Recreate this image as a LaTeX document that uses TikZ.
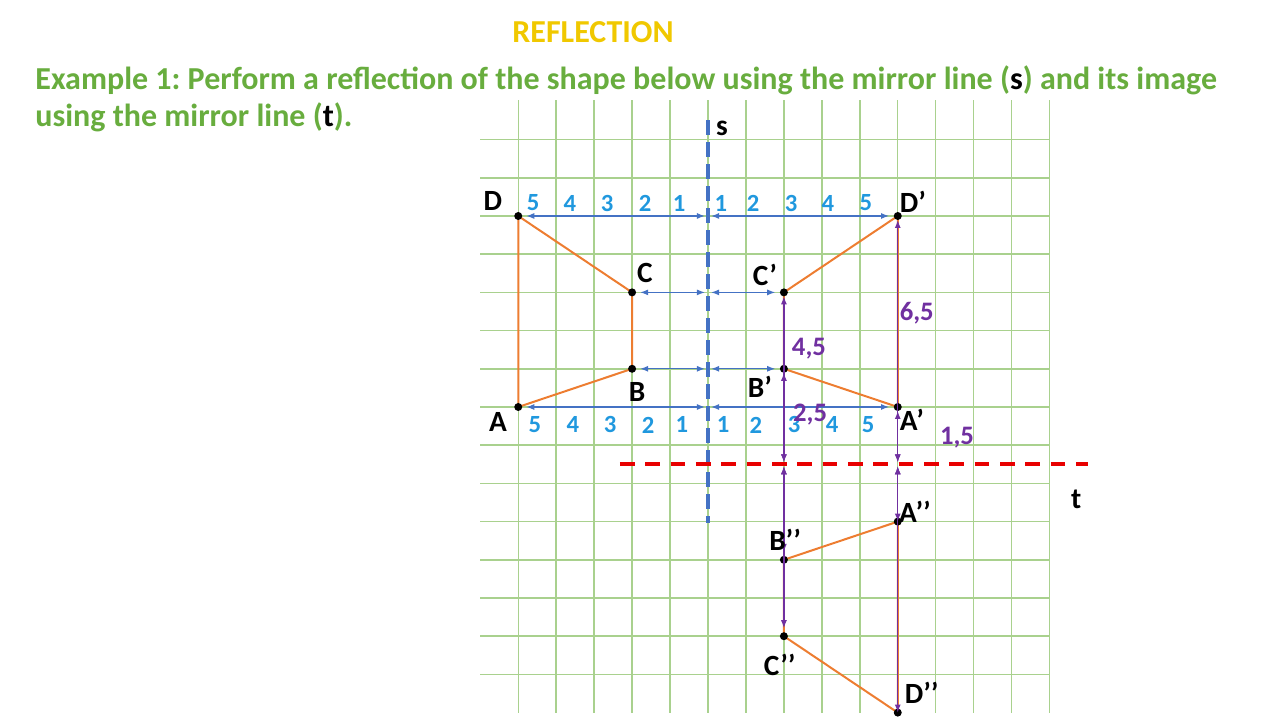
\documentclass[tikz,border=0pt]{standalone}
\usepackage{fontspec}
\setmainfont{Carlito}
\usepackage{xcolor}
\definecolor{verdeRejilla}{RGB}{169,209,142}
\definecolor{verdeTexto}{RGB}{104,173,62}
\definecolor{dorado}{RGB}{240,200,0}
\definecolor{naranja}{RGB}{237,125,49}
\definecolor{azulEje}{RGB}{68,114,196}
\definecolor{azulCifra}{RGB}{32,152,222}
\definecolor{rojoEje}{RGB}{232,0,0}
\definecolor{morado}{RGB}{112,48,160}
\usepackage{tikz}
\usetikzlibrary{arrows,arrows.meta,shapes,calc,positioning}
\frenchspacing
\tikzstyle{rejilla}=[verdeRejilla, line width=1.1pt]
\tikzstyle{edge}  =[naranja, line width=1.5pt, line join=round]
\tikzstyle{vertex}=[circle, fill=black, minimum size=6pt,
                    inner sep=0pt, outer sep=0pt]
\tikzstyle{medida}=[azulEje, line width=0.9pt,
                    {Latex[length=6pt,width=4.5pt]}-{Latex[length=6pt,width=4.5pt]}]
\tikzstyle{altura}=[morado, line width=0.9pt,
                    {Latex[length=6pt,width=4.5pt]}-{Latex[length=6pt,width=4.5pt]}]
\tikzstyle{ejeS}  =[azulEje, line width=3pt, dash pattern=on 11pt off 5.5pt]
\tikzstyle{ejeT}  =[rojoEje, line width=3pt, dash pattern=on 11pt off 8pt]
\tikzstyle{etiqueta}=[inner sep=0pt, font=\bfseries\fontsize{22}{24}\selectfont]
\tikzstyle{cifra} =[inner sep=0pt, azulCifra, font=\bfseries\fontsize{18.5}{20}\selectfont]
\tikzstyle{distancia}=[inner sep=0pt, morado, font=\bfseries\fontsize{20}{22}\selectfont]
\tikzstyle{enunciado}=[inner sep=0pt, anchor=base west, verdeTexto,
                    font=\bfseries\fontsize{24}{26}\selectfont]
\begin{document}
\begin{tikzpicture}[x=1cm,y=1.0066cm]
    \useasboundingbox (-18.656,-8.194) rectangle (15.072,10.654);

    % titulo y enunciado
    \node[inner sep=0pt, anchor=base, dorado, font=\bfseries\fontsize{24}{26}\selectfont]
        (titulo) at (-3.03,9.53) {REFLECTION};
    \node[enunciado] (linea1) at (-17.73,8.32)
        {Example 1: Perform a reflection of the shape below using the mirror line (\textcolor{black}{s}) and its image};
    \node[enunciado] (linea2) at (-17.73,7.33)
        {using the mirror line (\textcolor{black}{t}).};

    % cuadricula
    \foreach \x in {-5,...,9}
        \draw [rejilla] (\x,-8) -- (\x,8.04);
    \foreach \y in {-7,...,7}
        \draw [rejilla] (-6,\y) -- (9,\y);

    % ejes de simetria
    \coordinate (s1) at (0,7.51);
    \coordinate (s2) at (0,-3.04);
    \coordinate (t1) at (-2.32,-1.5);
    \coordinate (t2) at (10.01,-1.5);
    \draw [ejeS] (s1) -- (s2);
    \draw [ejeT] (t1) -- (t2);
    \node[etiqueta] (ls) at (0.37,7.30) {s};
    \node[etiqueta] (lt) at (9.70,-2.43) {t};

    % vertices
    \foreach \n/\x/\y in {A/-5/0,B/-2/1,C/-2/3,D/-5/5,
                          Ap/5/0,Bp/2/1,Cp/2/3,Dp/5/5,
                          App/5/-3,Bpp/2/-4,Cpp/2/-6,Dpp/5/-8}
        \coordinate (\n) at (\x,\y);
    \foreach \p/\y in {A/0,B/1,C/3,D/5}
        \coordinate (s\p) at (0,\y);
    \coordinate (tA) at (5,-1.5);
    \coordinate (tB) at (2,-1.5);

    % figuras
    \draw [edge] (A) -- (B) -- (C) -- (D) -- cycle;
    \draw [edge] (Ap) -- (Bp) -- (Cp) -- (Dp) -- cycle;
    \draw [edge] (App) -- (Bpp) -- (Cpp) -- (Dpp) -- cycle;

    % distancias al eje s
    \foreach \p in {A,B,C,D} {
        \draw [medida, shorten <=6pt, shorten >=2.3pt] (\p) -- (s\p);
        \draw [medida, shorten <=2.3pt, shorten >=6.5pt] (s\p) -- (\p p);
    }

    \foreach \p in {A,B,C,D,Ap,Bp,Cp,Dp,App,Bpp,Cpp,Dpp}
        \node[vertex] (v\p) at (\p) {};

    % distancias al eje t
    \foreach \p in {Cp,Bp}
        \draw [altura, shorten <=3pt, shorten >=1.5pt] (\p) -- (tB);
    \foreach \p in {Dp,Ap}
        \draw [altura, shorten <=3pt, shorten >=1.5pt] (\p) -- (tA);
    \foreach \p in {Bpp,Cpp}
        \draw [altura, shorten <=1.5pt, shorten >=6pt] (tB) -- (\p);
    \foreach \p in {App,Dpp}
        \draw [altura, shorten <=1.5pt] (tA) -- (\p);

    % nombres
    \foreach \p/\dx/\dy/\txt in {A/-0.53/-0.39/A, B/0.13/-0.60/B, C/0.34/0.51/C, D/-0.67/0.39/D,
                                 Ap/0.37/-0.34/A’, Bp/-0.63/-0.47/B’, Cp/-0.50/0.45/C’, Dp/0.40/0.37/D’,
                                 App/0.45/0.26/A’’, Bpp/0.03/0.52/B’’, Cpp/-0.11/-0.76/C’’, Dpp/0.63/0.52/D’’}
        \node[etiqueta] (l\p) at ($(\p)+(\dx,\dy)$) {\txt};

    % cifras
    \foreach \n/\x in {5/-4.61,4/-3.64,3/-2.66,2/-1.66,1/-0.76}
        \node[cifra] (ni\n) at (\x,5.34) {\n};
    \foreach \n/\x in {1/0.34,2/1.19,3/2.19,4/3.16,5/4.16}
        \node[cifra] (nd\n) at (\x,5.34) {\n};
    \foreach \n/\x in {5/-4.56,4/-3.56,3/-2.58,2/-1.58,1/-0.69}
        \node[cifra] (mi\n) at (\x,-0.47) {\n};
    \foreach \n/\x in {1/0.40,2/1.26,3/2.27,4/3.27,5/4.22}
        \node[cifra] (md\n) at (\x,-0.47) {\n};

    \node[distancia] (d65) at (5.50,2.46) {6,5};
    \node[distancia] (d45) at (2.66,1.54) {4,5};
    \node[distancia] (d25) at (2.69,-0.21) {2,5};
    \node[distancia] (d15) at (6.56,-0.81) {1,5};

\end{tikzpicture}
\end{document}
